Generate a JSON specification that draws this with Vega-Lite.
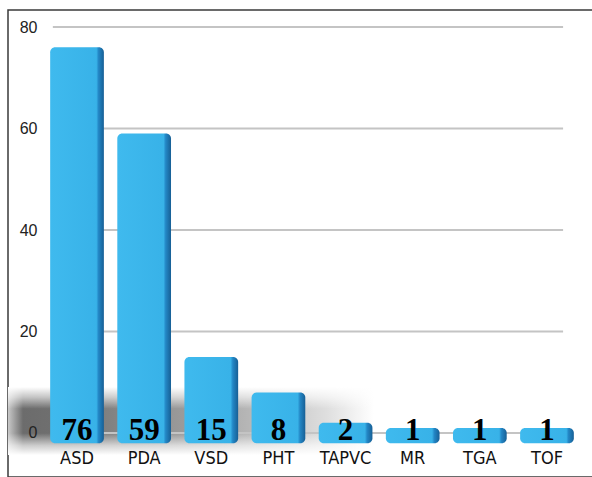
{
  "$schema": "https://vega.github.io/schema/vega-lite/v6.json",
  "autosize": "none",
  "padding": {"left": 8, "top": 10, "right": 0, "bottom": 0},
  "width": 600,
  "height": 467,
  "background": "white",
  "config": {
    "view": {"stroke": "#3a3a3a", "strokeWidth": 1.5},
    "font": "Liberation Sans"
  },
  "datasets": {
    "bars": [
      {"defect": "ASD", "count": 76},
      {"defect": "PDA", "count": 59},
      {"defect": "VSD", "count": 15},
      {"defect": "PHT", "count": 8},
      {"defect": "TAPVC", "count": 2},
      {"defect": "MR", "count": 1},
      {"defect": "TGA", "count": 1},
      {"defect": "TOF", "count": 1}
    ],
    "grid": [{"tick": 0}, {"tick": 20}, {"tick": 40}, {"tick": 60}, {"tick": 80}]
  },
  "layer": [
    {
      "data": {"values": [{"lo": -4.33, "hi": 9.06}]},
      "mark": {
        "type": "rect",
        "fill": {
          "gradient": "linear",
          "x1": 0, "y1": 0, "x2": 1, "y2": 0,
          "stops": [
            {"offset": 0, "color": "#c8c8c8"},
            {"offset": 0.025, "color": "#6c6c6c"},
            {"offset": 0.09, "color": "#707070"},
            {"offset": 0.18, "color": "#848484"},
            {"offset": 0.3, "color": "#9c9c9c"},
            {"offset": 0.415, "color": "#bababa"},
            {"offset": 0.53, "color": "#dedede"},
            {"offset": 0.61, "color": "#ffffff"},
            {"offset": 1, "color": "#ffffff"}
          ]
        }
      },
      "encoding": {
        "y": {"field": "hi", "type": "quantitative", "scale": {"domain": [-8.67, 83.35], "nice": false, "zero": false}},
        "y2": {"field": "lo"}
      }
    },
    {
      "data": {"values": [{"lo": -4.33, "hi": 9.06}]},
      "mark": {
        "type": "rect",
        "fill": {
          "gradient": "linear",
          "x1": 0, "y1": 0, "x2": 0, "y2": 1,
          "stops": [
            {"offset": 0, "color": "rgba(255,255,255,1)"},
            {"offset": 0.15, "color": "rgba(255,255,255,0.6)"},
            {"offset": 0.32, "color": "rgba(255,255,255,0)"},
            {"offset": 0.68, "color": "rgba(255,255,255,0)"},
            {"offset": 0.86, "color": "rgba(255,255,255,0.65)"},
            {"offset": 1, "color": "rgba(255,255,255,1)"}
          ]
        }
      },
      "encoding": {
        "y": {"field": "hi", "type": "quantitative"},
        "y2": {"field": "lo"}
      }
    },
    {
      "data": {"name": "grid"},
      "mark": {"type": "rule", "color": "#c4c4c4", "strokeWidth": 2},
      "encoding": {
        "y": {
          "field": "tick", "type": "quantitative",
          "scale": {"domain": [-8.67, 83.35], "nice": false, "zero": false},
          "axis": {
            "values": [0, 20, 40, 60, 80],
            "orient": "left",
            "offset": -29,
            "domain": false,
            "ticks": false,
            "grid": false,
            "labelPadding": 0,
            "labelFontSize": 16,
            "labelColor": "#222222",
            "labelFont": "Liberation Sans",
            "title": null,
            "zindex": 1
          }
        },
        "x": {"datum": "ASD", "bandPosition": 0.05, "type": "nominal"},
        "x2": {"datum": "TOF", "bandPosition": 0.8}
      }
    },
    {
      "data": {"name": "bars"},
      "mark": {
        "type": "bar",
        "cornerRadius": 5,
        "fill": {
          "gradient": "linear",
          "x1": 0, "y1": 0, "x2": 1, "y2": 0,
          "stops": [
            {"offset": 0, "color": "#3fbaee"},
            {"offset": 0.86, "color": "#38b2e8"},
            {"offset": 0.9, "color": "#2387c6"},
            {"offset": 1, "color": "#175f95"}
          ]
        }
      },
      "encoding": {
        "x": {
          "field": "defect", "type": "nominal",
          "scale": {
            "domain": ["ASD", "PDA", "VSD", "PHT", "TAPVC", "MR", "TGA", "TOF"],
            "range": [8.6, 599.4],
            "paddingInner": 0.2,
            "paddingOuter": 0.5
          },
          "axis": {
            "orient": "bottom",
            "offset": -19,
            "domain": false,
            "ticks": false,
            "grid": false,
            "bandPosition": 0.5,
            "labelAlign": "center",
            "labelPadding": 0,
            "labelAngle": 0,
            "labelFontSize": 18,
            "labelFont": "Liberation Sans Narrow, Arial Narrow, DejaVu Sans Condensed",
            "labelColor": "#111111",
            "title": null,
            "zindex": 1
          }
        },
        "y": {"field": "count", "type": "quantitative", "scale": {"domain": [-8.67, 83.35], "nice": false, "zero": false}},
        "y2": {"datum": -2}
      }
    },
    {
      "data": {"name": "bars"},
      "mark": {
        "type": "text",
        "font": "Liberation Serif",
        "fontWeight": "bold",
        "fontSize": 31,
        "color": "#000000",
        "baseline": "alphabetic",
        "dy": 7
      },
      "encoding": {
        "x": {"field": "defect", "type": "nominal"},
        "y": {"datum": 0, "type": "quantitative"},
        "text": {"field": "count", "type": "quantitative"}
      }
    }
  ]
}
